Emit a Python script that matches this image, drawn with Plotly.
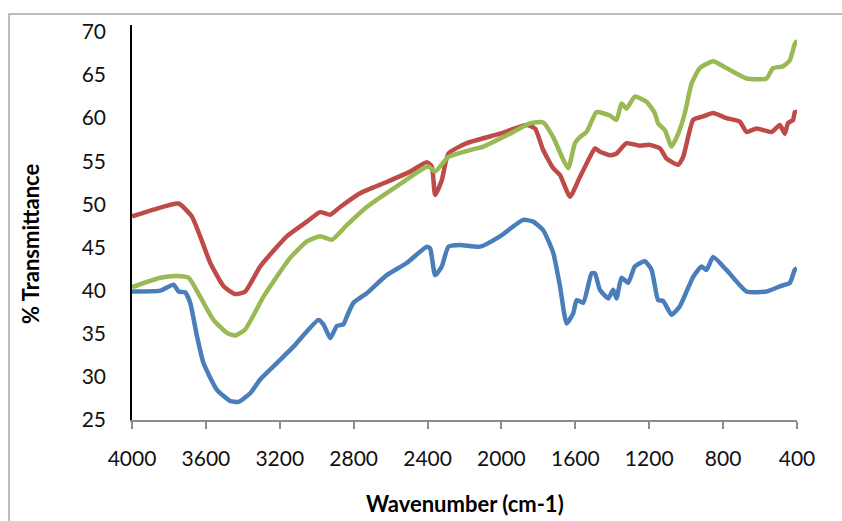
import plotly.graph_objects as go

# Blue series
blue_wn = [4000, 3847, 3775, 3748, 3712, 3685, 3648, 3613, 3540, 3468, 3423, 3360, 3306, 3216, 3126,
           2991, 2964, 2927, 2891, 2855, 2837, 2801, 2729, 2621, 2513, 2404, 2386, 2359, 2323, 2287,
           2224, 2116, 2008, 1882, 1828, 1774, 1720, 1683, 1647, 1611, 1593, 1557, 1512, 1494, 1467,
           1422, 1395, 1377, 1350, 1314, 1278, 1224, 1187, 1152, 1125, 1079, 1034, 962, 917, 890,
           854, 782, 673, 565, 493, 439, 412, 400]
blue_val = [39.9, 40.0, 40.7, 39.9, 39.8, 38.6, 34.7, 31.6, 28.5, 27.2, 27.1, 28.1, 29.7, 31.6, 33.5,
            36.6, 36.1, 34.5, 35.9, 36.1, 37.0, 38.6, 39.7, 41.8, 43.2, 45.1, 44.9, 41.8, 42.8, 45.1,
            45.3, 45.1, 46.3, 48.2, 48.0, 47.0, 44.4, 40.5, 36.2, 37.4, 38.9, 38.6, 42.0, 42.0, 40.1,
            39.1, 40.1, 39.1, 41.5, 40.9, 42.8, 43.4, 42.4, 38.9, 38.8, 37.2, 38.2, 41.6, 42.8, 42.4,
            43.9, 42.4, 39.9, 39.9, 40.5, 40.9, 42.4, 42.6]

# Red series
red_wn = [4000, 3883, 3748, 3676, 3631, 3576, 3504, 3441, 3387, 3306, 3162, 3053, 2981, 2927, 2873,
          2765, 2621, 2494, 2404, 2377, 2359, 2323, 2287, 2188, 2008, 1864, 1818, 1774, 1720, 1683,
          1629, 1575, 1521, 1494, 1467, 1413, 1377, 1323, 1251, 1197, 1142, 1106, 1043, 1016, 962,
          908, 854, 782, 710, 673, 619, 538, 493, 466, 449, 421, 412, 400]
red_val = [48.6, 49.4, 50.1, 48.6, 46.3, 43.2, 40.5, 39.6, 39.9, 42.8, 46.3, 48.0, 49.1, 48.8, 49.7,
           51.3, 52.6, 53.8, 54.9, 54.4, 51.1, 52.8, 55.9, 57.1, 58.2, 59.2, 58.8, 56.3, 54.2, 53.4,
           50.9, 53.2, 55.5, 56.5, 56.1, 55.7, 55.9, 57.1, 56.8, 56.9, 56.5, 55.3, 54.6, 55.5, 59.8,
           60.2, 60.6, 60.0, 59.6, 58.4, 58.8, 58.4, 59.2, 58.2, 59.4, 59.8, 60.7, 60.7]

# Green series
green_wn = [4000, 3847, 3757, 3694, 3631, 3559, 3486, 3441, 3387, 3288, 3144, 3053, 2981, 2918, 2837,
            2729, 2567, 2396, 2359, 2287, 2170, 2098, 1954, 1846, 1774, 1720, 1666, 1638, 1602, 1575,
            1539, 1485, 1413, 1377, 1350, 1323, 1278, 1215, 1170, 1152, 1115, 1079, 1043, 1007, 971,
            926, 854, 782, 673, 565, 530, 476, 439, 412, 400]
green_val = [40.4, 41.5, 41.7, 41.5, 39.3, 36.6, 35.1, 34.8, 35.5, 39.3, 43.8, 45.7, 46.3, 45.9, 47.6,
             49.7, 52.1, 54.4, 53.8, 55.5, 56.3, 56.7, 58.2, 59.4, 59.5, 57.8, 55.2, 54.2, 57.1, 57.8,
             58.4, 60.7, 60.3, 59.8, 61.7, 61.1, 62.5, 61.9, 60.6, 59.4, 58.6, 56.7, 58.2, 60.6, 64.0,
             65.8, 66.6, 65.8, 64.6, 64.6, 65.8, 66.0, 66.7, 68.6, 69.0]

x_ticks = [4000, 3600, 3200, 2800, 2400, 2000, 1600, 1200, 800, 400]
y_ticks = [25, 30, 35, 40, 45, 50, 55, 60, 65, 70]

x_title = "Wavenumber (cm-1)"
y_title = "% Transmittance"

FONT = "Lato"

fig = go.Figure()
for wn, val, col in [(blue_wn, blue_val, "#4A7EBB"),
                     (red_wn, red_val, "#BE4B48"),
                     (green_wn, green_val, "#98B954")]:
    fig.add_trace(go.Scatter(x=wn, y=val, mode="lines",
                             line=dict(color=col, width=4.5, shape="spline", smoothing=0.5),
                             showlegend=False, hoverinfo="skip"))

fig.update_layout(
    width=842, height=521,
    margin=dict(l=132, r=45, t=25, b=101),
    paper_bgcolor="white", plot_bgcolor="white",
    font=dict(family=FONT, size=21, color="#111111"),
    showlegend=False,
)
fig.update_xaxes(
    range=[4000, 400], tickvals=x_ticks, ticktext=[str(v) for v in x_ticks],
    showgrid=False, zeroline=False,
    showline=True, linecolor="#8c8c8c", linewidth=1.5,
    ticks="outside", ticklen=7, tickcolor="#8c8c8c", tickwidth=1.5,
    ticklabelstandoff=12,
    tickfont=dict(family=FONT, size=21, color="#111111"),
)
fig.update_yaxes(
    range=[25, 70.8], tickvals=y_ticks, ticktext=[str(v) for v in y_ticks],
    showgrid=False, zeroline=False,
    showline=True, linecolor="#000000", linewidth=1.5,
    ticks="", ticklabelstandoff=20,
    tickfont=dict(family=FONT, size=21, color="#111111"),
)

# axis titles
fig.add_annotation(text="<b>" + x_title + "</b>", xref="paper", yref="paper",
                   x=(465 - 132) / 665, y=(420 - 503) / 395, showarrow=False,
                   xanchor="center", yanchor="middle",
                   font=dict(family=FONT, size=22, color="#000000"))
fig.add_annotation(text="<b>" + y_title + "</b>", xref="paper", yref="paper",
                   x=(30 - 132) / 665, y=(420 - 244) / 395, showarrow=False,
                   textangle=-90, xanchor="center", yanchor="middle",
                   font=dict(family=FONT, size=22, color="#000000"))

# outer chart border (only top/left visible)
fig.add_shape(type="rect", xref="paper", yref="paper",
              x0=(9 - 132) / 665, x1=1.2, y0=-0.4, y1=(420 - 14) / 395,
              line=dict(color="#a6a6a6", width=1.5), fillcolor="rgba(0,0,0,0)", layer="below")

fig.write_html("out.html",
               config={"displayModeBar": False},
               post_script="document.body.style.margin='0';document.body.style.padding='0';")
